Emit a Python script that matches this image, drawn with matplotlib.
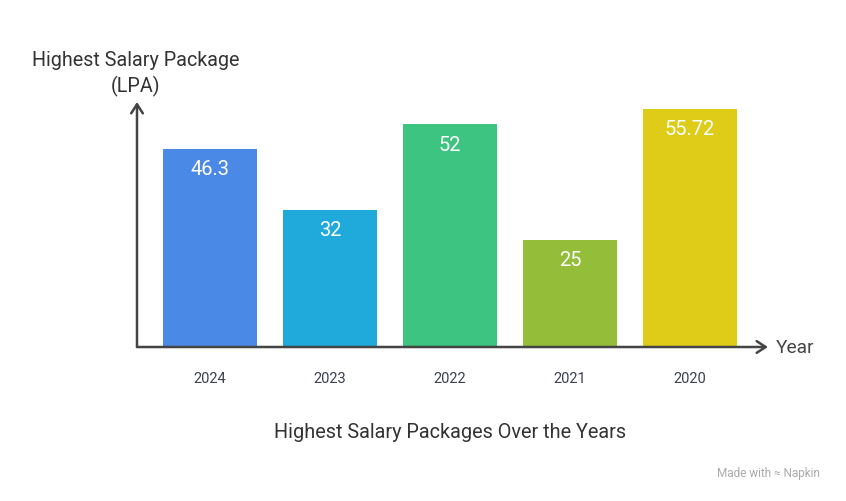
import matplotlib.pyplot as plt

years = ["2024", "2023", "2022", "2021", "2020"]
packages = [46.3, 32, 52, 25, 55.72]
value_labels = ["46.3", "32", "52", "25", "55.72"]
bar_colors = ["#4B89E6", "#20AADB", "#3DC481", "#94BE3A", "#DFCC18"]

plt.rcParams["font.family"] = ["Roboto", "DejaVu Sans"]

W, H = 846, 502
fig = plt.figure(figsize=(W / 100, H / 100), dpi=100)

# axes box in pixels: left edge at y-axis, bottom at baseline
x0, x1 = 137, 768
y_base, y_top = 348, 103
ax = fig.add_axes([x0 / W, (H - y_base) / H, (x1 - x0) / W, (y_base - y_top) / H])

px_per_unit = 4.28
spacing = 120.0
ax.set_xlim(-(210 - x0) / spacing, (x1 - 210) / spacing)
ax.set_ylim(0, (y_base - y_top) / px_per_unit)

xs = list(range(len(years)))
bars = ax.bar(xs, packages, width=94 / spacing, color=bar_colors, zorder=2)

for b, lab in zip(bars, value_labels):
    ax.annotate(lab, (b.get_x() + b.get_width() / 2, b.get_height()),
                xytext=(0, -7.5), textcoords="offset points",
                ha="center", va="top", color="white", fontsize=14.5)

for s in ax.spines.values():
    s.set_visible(False)
ax.set_xticks(xs)
ax.set_xticklabels(years, fontsize=10.5, color="#3A4050")
ax.tick_params(axis="x", length=0, pad=17)
ax.set_yticks([])

# axis arrows
axis_color = "#444444"
for tip in [(1, 0), (0, 1)]:
    ax.annotate("", xy=tip, xytext=(0, 0), xycoords="axes fraction",
                arrowprops=dict(arrowstyle="->,head_length=0.65,head_width=0.42",
                                color=axis_color, lw=1.8, shrinkA=0, shrinkB=0))

fig.text(776 / W, 1 - 348 / H, "Year", ha="left", va="center",
         fontsize=13.8, color="#444444")
fig.text(136 / W, 1 - 74 / H, "Highest Salary Package\n(LPA)", ha="center",
         va="center", fontsize=14.2, color="#333333", linespacing=1.4)
fig.text(450 / W, 1 - 433 / H, "Highest Salary Packages Over the Years",
         ha="center", va="center", fontsize=14.3, color="#333333")
fig.text(768 / W, 1 - 474 / H, "Made with \u2248 Napkin", ha="center",
         va="center", fontsize=8.5, color="#AAAAAA")

fig.savefig("out.png", dpi=100)
